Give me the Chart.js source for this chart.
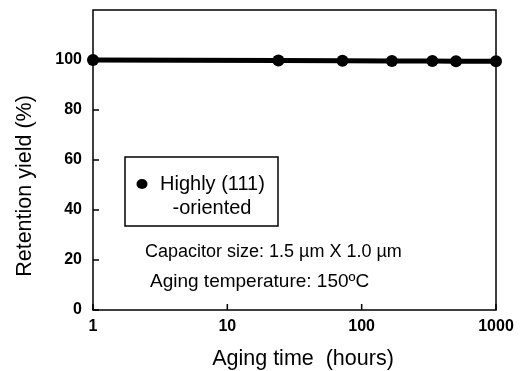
<!DOCTYPE html>
<html>
<head>
<meta charset="utf-8">
<script src="https://cdn.jsdelivr.net/npm/chart.js@4/dist/chart.umd.min.js"></script>
<style>
  html, body { margin: 0; padding: 0; background: #fff; }
  #wrap { width: 520px; height: 371px; }
</style>
</head>
<body>
<div id="wrap"><canvas id="c" width="520" height="371"></canvas></div>
<script>
// datos
const agingHours = [1, 24, 72, 168, 336, 504, 1000];
const retention = [100, 99.8, 99.7, 99.6, 99.6, 99.5, 99.5];
const xTickValues = [1, 10, 100, 1000];
const yTickValues = [0, 20, 40, 60, 80, 100];
const seriesName = ['Highly (111)', '-oriented'];
const notes = ['Capacitor size: 1.5 \u00b5m X 1.0 \u00b5m', 'Aging temperature: 150\u00baC'];

const FONT = '"Liberation Sans", Arial, sans-serif';

// marco, ticks hacia dentro, leyenda y textos
const decor = {
  id: 'decor',
  afterDraw(chart) {
    const { ctx, chartArea: a, scales: { x, y } } = chart;
    ctx.save();
    ctx.strokeStyle = '#000';
    ctx.lineWidth = 1.5;
    ctx.strokeRect(a.left, a.top, a.right - a.left, a.bottom - a.top);

    ctx.beginPath();
    yTickValues.forEach((v) => {
      const py = y.getPixelForValue(v);
      ctx.moveTo(a.left, py); ctx.lineTo(a.left + 6, py);
    });
    xTickValues.forEach((v) => {
      const px = x.getPixelForValue(v);
      ctx.moveTo(px, a.bottom); ctx.lineTo(px, a.bottom - 6);
    });
    ctx.stroke();

    // leyenda
    ctx.strokeRect(125, 157, 153, 69);
    ctx.fillStyle = '#000';
    ctx.beginPath();
    ctx.ellipse(142, 184, 5.5, 5, 0, 0, Math.PI * 2);
    ctx.fill();
    ctx.font = '20px ' + FONT;
    ctx.textBaseline = 'middle';
    ctx.textAlign = 'left';
    ctx.fillText(seriesName[0], 160, 184);
    ctx.textAlign = 'center';
    ctx.fillText(seriesName[1], 212, 208);

    ctx.textAlign = 'left';
    ctx.font = '18px ' + FONT;
    ctx.fillText(notes[0], 145, 252);
    ctx.font = '19px ' + FONT;
    ctx.fillText(notes[1], 150, 282);

    // títulos de ejes
    ctx.font = '21.5px ' + FONT;
    ctx.textAlign = 'center';
    ctx.fillText('Aging time  (hours)', 303, 359);
    ctx.save();
    ctx.translate(25, 186);
    ctx.rotate(-Math.PI / 2);
    ctx.fillText('Retention yield (%)', 0, 0);
    ctx.restore();
    ctx.restore();
  },
};

new Chart(document.getElementById('c'), {
  type: 'line',
  data: {
    datasets: [{
      label: seriesName.join(' '),
      data: agingHours.map((h, i) => ({ x: h, y: retention[i] })),
      borderColor: '#000',
      backgroundColor: '#000',
      borderWidth: 5,
      pointRadius: 6,
      pointBackgroundColor: '#000',
      pointBorderWidth: 0,
      tension: 0,
      clip: false,
    }],
  },
  options: {
    responsive: false,
    animation: false,
    layout: { padding: { top: 10, right: 24, left: 0, bottom: 0 } },
    plugins: { legend: { display: false }, tooltip: { enabled: false } },
    scales: {
      x: {
        type: 'logarithmic',
        min: 1,
        max: 1000,
        afterBuildTicks: (s) => { s.ticks = xTickValues.map((v) => ({ value: v })); },
        afterFit: (s) => { s.height = 61; s.paddingLeft = 0; s.paddingRight = 0; },
        grid: { display: false, drawTicks: false },
        border: { display: false },
        ticks: {
          autoSkip: false,
          maxRotation: 0,
          padding: 7,
          color: '#000',
          font: { family: FONT, size: 16, weight: 'bold' },
          callback: (v) => String(v),
        },
      },
      y: {
        min: 0,
        max: 120,
        afterBuildTicks: (s) => { s.ticks = yTickValues.map((v) => ({ value: v })); },
        afterFit: (s) => { s.width = 93; s.paddingTop = 0; s.paddingBottom = 0; },
        grid: { display: false, drawTicks: false },
        border: { display: false },
        ticks: {
          padding: 11,
          color: '#000',
          font: { family: FONT, size: 16, weight: 'bold' },
        },
      },
    },
  },
  plugins: [decor],
});
</script>
</body>
</html>
